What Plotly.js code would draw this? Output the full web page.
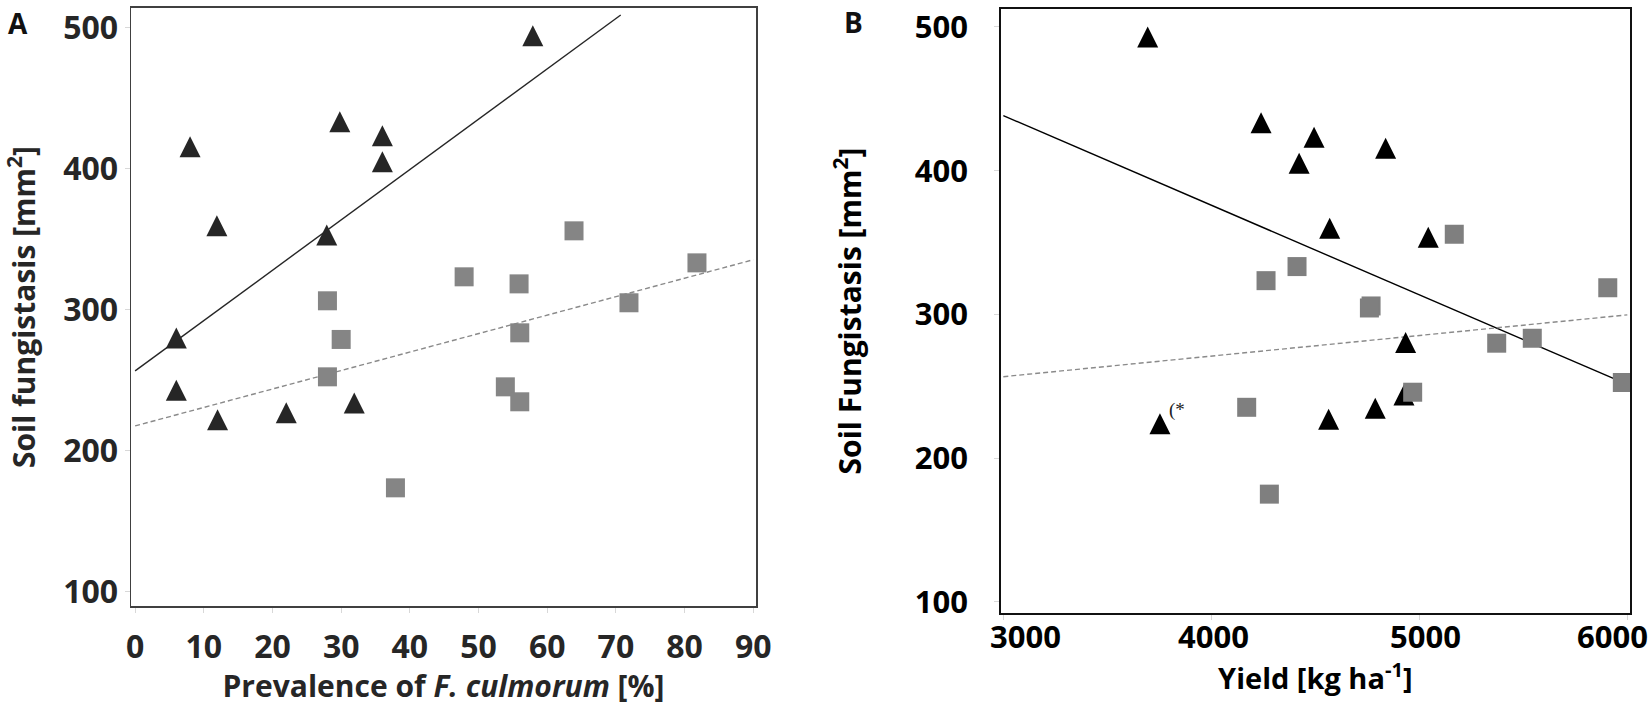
<html>
<head>
<meta charset="utf-8" />
<title>Soil fungistasis</title>
<script src="https://cdn.plot.ly/plotly-3.0.1.min.js"></script>
</head>
<body style="margin:0">

<div id="myDiv"></div>

<script>

// panel A: prevalence of F. culmorum [%] vs soil fungistasis
var triAx = [8, 11.9, 29.8, 36, 36, 27.9, 6, 6, 12, 22, 31.9, 57.9];
var triAy = [415.6, 359.6, 433.3, 423.4, 405, 353, 280, 243, 222, 227, 234, 494.3];

var sqAx = [28, 37.9, 30, 28, 63.9, 47.9, 55.9, 81.8, 71.9, 56, 53.9, 56];
var sqAy = [252.5, 173.8, 279, 306.4, 356, 323.4, 318.4, 333.3, 305, 283.7, 245.4, 234.8];

// fitted lines, end points
var fitTriAx = [0, 70.7];
var fitTriAy = [256.7, 509];
var fitSqAx = [0, 90];
var fitSqAy = [217.7, 335.5];

// panel B: yield [kg/ha] vs soil fungistasis
var triBx = [3694, 3753, 4239, 4494, 4422, 4838, 4569, 5043, 4934, 4926, 4788, 4564];
var triBy = [493, 224, 433.4, 423.3, 405.2, 415.6, 360, 353.7, 280.4, 244, 234.7, 227.1];

var sqBx = [5168, 4412, 4263, 4768, 4760, 5906, 5372, 5543, 5976, 4968, 4170, 4279];
var sqBy = [355.8, 333.3, 323.5, 305.9, 304.5, 318.6, 280, 283.4, 252.6, 245.9, 235.4, 175];

var fitTriBx = [3000, 6000];
var fitTriBy = [438.3, 251.3];
var fitSqBx = [3000, 6000];
var fitSqBy = [256.7, 299.7];

var ticksA = [0, 10, 20, 30, 40, 50, 60, 70, 80, 90];
var ticksB = [3000, 4000, 5000, 6000];
var ticksY = [100, 200, 300, 400, 500];
// B x labels sit a bit off their ticks in the original (kept inside the frame)
var ticksBshift = [22, 2, 6, -15];

var triSize = 21;
var sqSize = 19;

// up-pointing triangle centred on the point (equal width and height)
function tri(color) {
  return { symbol: 'arrow-down', angle: 180, standoff: triSize / 2, size: triSize, color: color, line: { width: 0 } };
}

var data = [
  { x: fitTriAx, y: fitTriAy, mode: 'lines', type: 'scatter', line: { color: '#262626', width: 1.4 }, xaxis: 'x', yaxis: 'y' },
  { x: fitSqAx, y: fitSqAy, mode: 'lines', type: 'scatter', line: { color: '#8a8a8a', width: 1.4, dash: '5px,3px' }, xaxis: 'x', yaxis: 'y' },
  { x: triAx, y: triAy, mode: 'markers', type: 'scatter', marker: tri('#262626'), xaxis: 'x', yaxis: 'y' },
  { x: sqAx, y: sqAy, mode: 'markers', type: 'scatter', marker: { symbol: 'square', size: sqSize, color: '#858585' }, xaxis: 'x', yaxis: 'y' },

  { x: fitTriBx, y: fitTriBy, mode: 'lines', type: 'scatter', line: { color: '#000', width: 1.4 }, xaxis: 'x2', yaxis: 'y2' },
  { x: fitSqBx, y: fitSqBy, mode: 'lines', type: 'scatter', line: { color: '#8a8a8a', width: 1.4, dash: '5px,3px' }, xaxis: 'x2', yaxis: 'y2' },
  { x: triBx, y: triBy, mode: 'markers', type: 'scatter', marker: tri('#000'), xaxis: 'x2', yaxis: 'y2' },
  { x: sqBx, y: sqBy, mode: 'markers', type: 'scatter', marker: { symbol: 'square', size: sqSize, color: '#7f7f7f' }, xaxis: 'x2', yaxis: 'y2' }
];

function axis(o) {
  return {
    showgrid: false, zeroline: false, showline: true, mirror: true,
    linewidth: 1.5, ticks: 'outside', ticklen: 5, tickcolor: '#d8d8d8',
    tickfont: { family: 'Open Sans', size: o.tsize, weight: 'bold', color: o.color },
    tickmode: 'array', tickvals: o.ticks, linecolor: o.linecolor,
    showticklabels: o.labels !== false, ticklabelstandoff: o.lstand || 0,
    domain: o.domain, range: o.range, anchor: o.anchor,
    title: { text: o.title, standoff: o.standoff, font: { family: 'Open Sans', size: o.fsize, weight: 'bold', color: o.color } }
  };
}

var annotations = [
  { text: 'A', xref: 'paper', yref: 'paper', x: 17.5 / 1650, y: 1 - 23 / 706, xanchor: 'center', yanchor: 'middle', showarrow: false,
    font: { family: 'Open Sans', size: 28, weight: 'bold', color: '#111' } },
  { text: 'B', xref: 'paper', yref: 'paper', x: 853 / 1650, y: 1 - 22 / 706, xanchor: 'center', yanchor: 'middle', showarrow: false,
    font: { family: 'Open Sans', size: 28, weight: 'bold', color: '#111' } },
  { text: '(*', xref: 'x2', yref: 'y2', x: 3835, y: 233.6, xanchor: 'center', yanchor: 'middle', showarrow: false,
    font: { family: 'Liberation Serif', size: 19, color: '#222' } }
];

for (var i = 0; i < ticksB.length; i++) {
  annotations.push({
    text: String(ticksB[i]), xref: 'x2', yref: 'paper', x: ticksB[i], xshift: ticksBshift[i],
    y: 1 - 636 / 706, xanchor: 'center', yanchor: 'middle', showarrow: false,
    font: { family: 'Open Sans', size: 31, weight: 'bold', color: '#000' }
  });
}

var layout = {
  width: 1650,
  height: 706,
  margin: { l: 0, r: 0, t: 0, b: 0 },
  showlegend: false,
  paper_bgcolor: 'white',
  plot_bgcolor: 'white',
  xaxis: axis({ ticks: ticksA, domain: [0.0794, 0.4582], range: [-0.6, 90.4], anchor: 'y', color: '#262626', linecolor: '#404040',
    tsize: 32, fsize: 30, lstand: 7, title: 'Prevalence of <i>F. culmorum</i> [%]', standoff: 2 }),
  yaxis: axis({ ticks: ticksY, domain: [0.1416, 0.9887], range: [90, 514], anchor: 'x', color: '#262626', linecolor: '#404040',
    tsize: 32, fsize: 30, title: 'Soil fungistasis [mm<sup>2</sup>]', standoff: 20 }),
  xaxis2: axis({ ticks: ticksB, domain: [0.6065, 0.9879], range: [2987.5, 6013], anchor: 'y2', color: '#000', linecolor: '#111',
    tsize: 31, fsize: 29, labels: false, title: 'Yield [kg ha<sup>-1</sup>]', standoff: 50 }),
  yaxis2: axis({ ticks: ticksY, domain: [0.1317, 0.9873], range: [92.3, 512.5], anchor: 'x2', color: '#000', linecolor: '#111',
    tsize: 31, fsize: 30, lstand: 20, title: 'Soil Fungistasis [mm<sup>2</sup>]', standoff: 44 }),
  annotations: annotations
};

Plotly.newPlot('myDiv', data, layout, { staticPlot: true });

</script>

</body>
</html>
